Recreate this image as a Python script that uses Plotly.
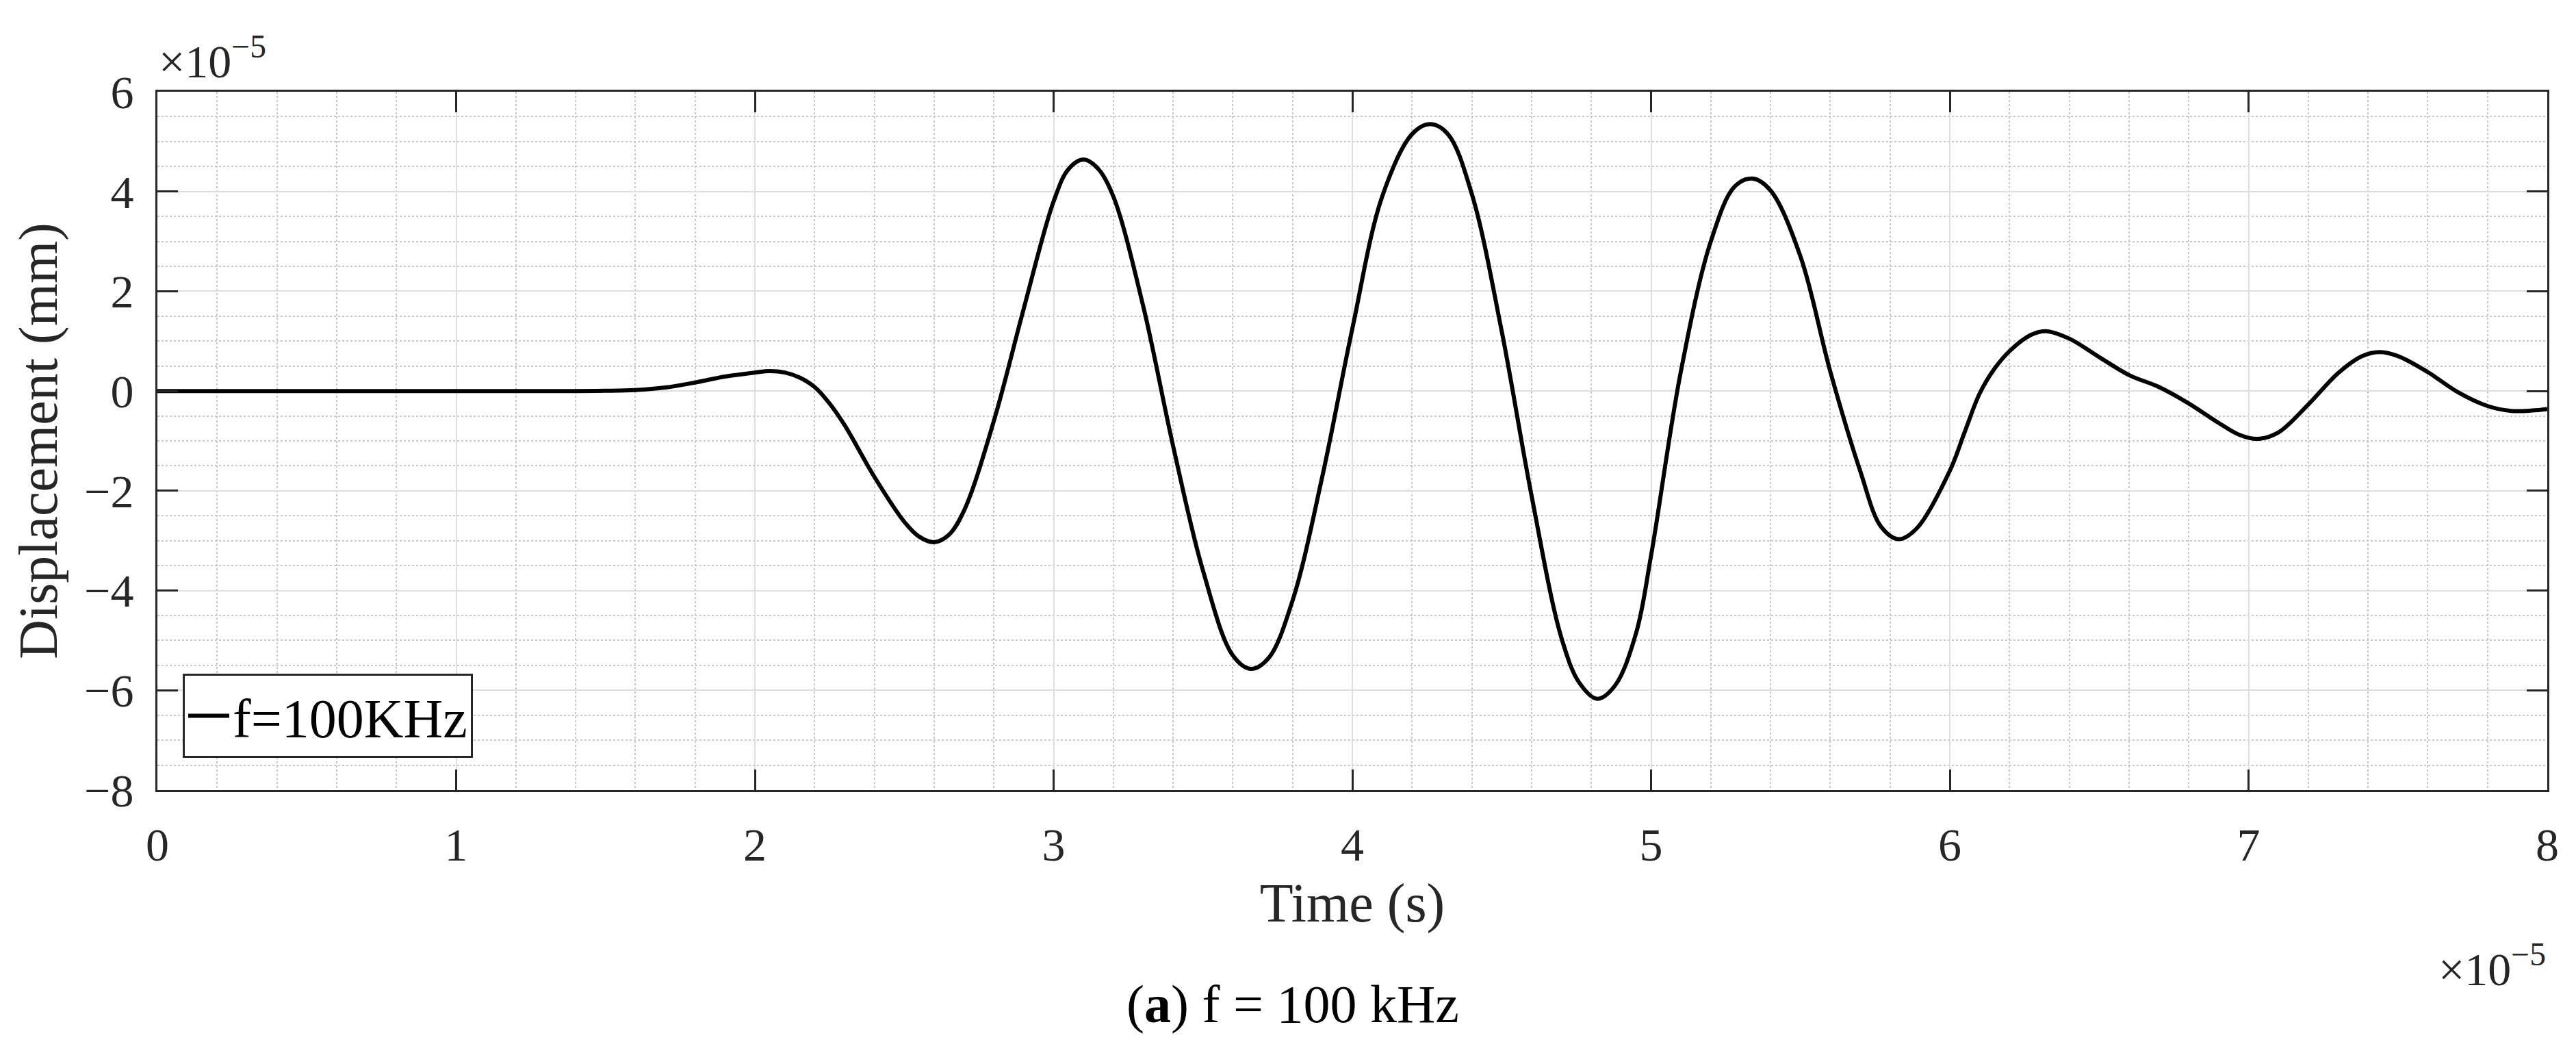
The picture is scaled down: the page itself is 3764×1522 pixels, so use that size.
import plotly.graph_objects as go

# Time in units of 1e-5 s, displacement in units of 1e-5 mm
time_e5 = [0.0, 0.5, 1.0, 1.4, 1.5, 1.6, 1.7, 1.8, 1.9, 2.0, 2.05, 2.1, 2.15, 2.2, 2.25, 2.3,
           2.4, 2.5, 2.55, 2.6, 2.65, 2.7, 2.8, 2.9, 3.0, 3.05, 3.1, 3.15, 3.2, 3.3, 3.4,
           3.5, 3.6, 3.66, 3.72, 3.8, 3.9, 4.0, 4.1, 4.2, 4.26, 4.32, 4.4, 4.5, 4.6, 4.7,
           4.76, 4.82, 4.88, 4.95, 5.0, 5.1, 5.2, 5.28, 5.34, 5.4, 5.5, 5.6, 5.7, 5.77,
           5.83, 5.89, 6.0, 6.05, 6.1, 6.15, 6.2, 6.27, 6.32, 6.4, 6.5, 6.6, 6.7, 6.8,
           6.9, 6.97, 7.03, 7.1, 7.2, 7.3, 7.38, 7.44, 7.5, 7.6, 7.7, 7.8, 7.88, 7.95, 8.0]
disp_e5 = [0.0, 0.0, 0.0, 0.0, 0.005, 0.02, 0.07, 0.17, 0.29, 0.37, 0.40, 0.37, 0.27, 0.08,
           -0.25, -0.68, -1.72, -2.62, -2.92, -3.03, -2.88, -2.4, -0.6, 1.65, 3.8, 4.45,
           4.64, 4.45, 3.9, 1.7, -1.1, -3.6, -5.3, -5.57, -5.35, -4.2, -1.7, 1.25, 3.9,
           5.15, 5.35, 5.15, 3.95, 1.2, -2.1, -4.95, -5.85, -6.17, -5.9, -4.85, -3.3, 0.4,
           3.0, 4.1, 4.26, 4.02, 2.7, 0.39, -1.6, -2.72, -2.97, -2.75, -1.6, -0.82, -0.05,
           0.45, 0.8, 1.12, 1.2, 1.05, 0.68, 0.32, 0.08, -0.25, -0.64, -0.88, -0.96, -0.83,
           -0.27, 0.36, 0.7, 0.78, 0.7, 0.38, -0.02, -0.3, -0.4, -0.39, -0.36]

x_ticks = [0, 1, 2, 3, 4, 5, 6, 7, 8]
y_ticks = [-8, -6, -4, -2, 0, 2, 4, 6]
y_tick_text = ["\u22128", "\u22126", "\u22124", "\u22122", "0", "2", "4", "6"]

FONT = "Liberation Serif"
AXC = "#262626"

fig = go.Figure()
fig.add_trace(go.Scatter(
    x=time_e5, y=disp_e5, mode="lines", name="f=100KHz",
    line=dict(color="black", width=6, shape="spline", smoothing=1.0),
))

axis_common = dict(
    showline=True, linecolor=AXC, linewidth=3, mirror="ticks",
    ticks="inside", ticklen=30, tickwidth=3, tickcolor=AXC,
    showgrid=True, gridcolor="#dedede", gridwidth=2,
    zeroline=False,
    tickfont=dict(family=FONT, size=68, color=AXC),
    ticklabelstandoff=18,
)

fig.update_xaxes(
    range=[0, 8], tickvals=x_ticks, ticktext=[str(v) for v in x_ticks],
    title=dict(text="Time (s)", font=dict(family=FONT, size=80, color=AXC), standoff=20),
    minor=dict(dtick=0.2, showgrid=True, griddash="dot", gridcolor="#c8c8c8", gridwidth=2,
               ticks=""),
    **axis_common,
)
fig.update_yaxes(
    range=[-8, 6], tickvals=y_ticks, ticktext=y_tick_text,
    title=dict(text="Displacement (mm)", font=dict(family=FONT, size=80, color=AXC), standoff=14),
    minor=dict(dtick=0.5, showgrid=True, griddash="dot", gridcolor="#c8c8c8", gridwidth=2,
               ticks=""),
    **axis_common,
)

fig.update_layout(
    width=3764, height=1522,
    margin=dict(l=222, r=50, t=126, b=376),
    paper_bgcolor="white", plot_bgcolor="white",
    font=dict(family=FONT, color=AXC),
    showlegend=True,
    legend=dict(
        x=0.0106, y=0.046, xanchor="left", yanchor="bottom",
        bgcolor="white", bordercolor=AXC, borderwidth=3,
        font=dict(family=FONT, size=80, color="black"),
        itemwidth=60,
    ),
    annotations=[
        dict(text="\u00d710<sup>\u22125</sup>", xref="paper", yref="paper", x=0.0, y=1.0,
             xanchor="left", yanchor="bottom", yshift=4, showarrow=False,
             font=dict(family=FONT, size=68, color=AXC)),
        dict(text="\u00d710<sup>\u22125</sup>", xref="paper", yref="paper", x=1.0, y=0.0,
             xanchor="right", yanchor="top", yshift=-212, showarrow=False,
             font=dict(family=FONT, size=68, color=AXC)),
        dict(text="(<b>a</b>) f = 100 kHz", xref="paper", yref="paper", x=0.475, y=0.0,
             xanchor="center", yanchor="middle", yshift=-312, showarrow=False,
             font=dict(family=FONT, size=78, color="black")),
    ],
)

fig.write_html("out.html")
